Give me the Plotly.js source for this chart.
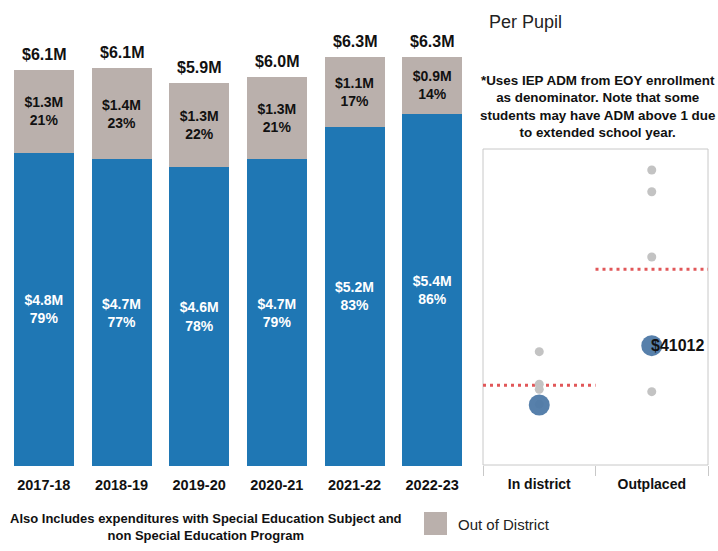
<!DOCTYPE html>
<html>
<head>
<meta charset="utf-8">
<script src="https://cdn.plot.ly/plotly-3.0.1.min.js"></script>
<style>html,body{margin:0;padding:0;background:#fff;} #chart{width:718px;height:551px;}</style>
</head>
<body>
<div id="chart"></div>
<script>
// ---- Data (left: spending in $M) ----
var years = ["2017-18", "2018-19", "2019-20", "2020-21", "2021-22", "2022-23"];
var inDistrictM = [4.82, 4.72, 4.60, 4.72, 5.22, 5.42];
var outDistrictM = [1.28, 1.40, 1.30, 1.27, 1.08, 0.88];

// ---- Data (right: per pupil) ----
var placements = ["In district", "Outplaced"];
var otherYearsPlacement = ["In district", "In district", "In district", "In district",
                           "Outplaced", "Outplaced", "Outplaced", "Outplaced"];
var otherYearsPerPupil = [38950, 27750, 26000, 20900, 101400, 93900, 71500, 25200];
var currentPerPupil = [20630, 41012];
var currentLabels = ["", "$41012"];
var averagePerPupil = [27400, 67300];

var noteLines = ["*Uses IEP ADM from EOY enrollment", "as denominator. Note that some",
                 "students may have ADM above 1 due", "to extended school year."];
var footnote = "Also Includes expenditures with Special Education Subject and<br>non Special Education Program";
var legendLabel = "Out of District";

var BLUE = "#1f77b4", GRAY = "#bab0ac";
var boldFont = "Liberation Sans, Arial, sans-serif";

var totals = inDistrictM.map(function (v, i) { return v + outDistrictM[i]; });
function money(v) { return "$" + v.toFixed(1) + "M"; }
function pct(v, t) { return Math.round(100 * v / t) + "%"; }

var traces = [
  {
    type: "bar", x: years, y: inDistrictM, name: "In District",
    marker: { color: BLUE },
    text: inDistrictM.map(function (v, i) { return "<b>" + money(v) + "<br>" + pct(v, totals[i]) + "</b>"; }),
    textposition: "inside", insidetextanchor: "middle", constraintext: "none",
    textfont: { color: "#ffffff", size: 14, family: boldFont },
    hoverinfo: "skip", xaxis: "x", yaxis: "y"
  },
  {
    type: "bar", x: years, y: outDistrictM, name: legendLabel,
    marker: { color: GRAY },
    text: outDistrictM.map(function (v, i) { return "<b>" + money(v) + "<br>" + pct(v, totals[i]) + "</b>"; }),
    textposition: "inside", insidetextanchor: "middle", constraintext: "none",
    textfont: { color: "#111111", size: 14, family: boldFont },
    hoverinfo: "skip", xaxis: "x", yaxis: "y"
  },
  {
    type: "scatter", mode: "markers", x: otherYearsPlacement, y: otherYearsPerPupil,
    marker: { color: "#c3c3c3", size: 9 }, hoverinfo: "skip", xaxis: "x2", yaxis: "y2"
  },
  {
    type: "scatter", mode: "markers", x: placements, y: currentPerPupil,
    marker: { color: "#4e79a7", size: 21, opacity: 0.95 }, hoverinfo: "skip", xaxis: "x2", yaxis: "y2"
  }
];

var annotations = [];
years.forEach(function (y, i) {
  annotations.push({
    x: y, y: totals[i], xref: "x", yref: "y", yanchor: "bottom", yshift: 5,
    text: "<b>" + money(totals[i]) + "</b>", showarrow: false,
    font: { size: 16, color: "#111", family: boldFont }
  });
});
placements.forEach(function (p, i) {
  if (currentLabels[i]) {
    annotations.push({
      x: i, y: currentPerPupil[i], xref: "x2", yref: "y2", xanchor: "left", yanchor: "middle", xshift: -3,
      text: "<b>" + currentLabels[i] + "</b>", showarrow: false,
      font: { size: 16, color: "#111", family: boldFont }
    });
  }
});
annotations.push({
  x: 487 / 718, y: 1 - 22 / 551, xref: "paper", yref: "paper", xanchor: "left", yanchor: "middle",
  text: "Per Pupil", showarrow: false, font: { size: 18, color: "#222", family: "Liberation Sans, Arial, sans-serif" }
});
annotations.push({
  x: 597 / 718, y: 1 - 106 / 551, xref: "paper", yref: "paper", xanchor: "center", yanchor: "middle",
  text: "<b>" + noteLines.join("<br>") + "</b>", showarrow: false, align: "center",
  font: { size: 13.4, color: "#111", family: boldFont }
});
annotations.push({
  x: 206 / 718, y: 1 - 527 / 551, xref: "paper", yref: "paper", xanchor: "center", yanchor: "middle",
  text: "<b>" + footnote + "</b>", showarrow: false, align: "center",
  font: { size: 13, color: "#111", family: boldFont }
});
annotations.push({
  x: 456 / 718, y: 1 - 524 / 551, xref: "paper", yref: "paper", xanchor: "left", yanchor: "middle",
  text: legendLabel, showarrow: false, font: { size: 15, color: "#222", family: "Liberation Sans, Arial, sans-serif" }
});

var shapes = [
  { type: "rect", xref: "x2 domain", yref: "y2 domain", x0: 0, x1: 1, y0: 0, y1: 1,
    line: { color: "#c8c8c8", width: 1 }, layer: "below" },
  { type: "rect", xref: "paper", yref: "paper", x0: 424 / 718, x1: 447 / 718, y0: 1 - 535 / 551, y1: 1 - 512 / 551,
    fillcolor: GRAY, line: { width: 0 } }
];
placements.forEach(function (p, i) {
  shapes.push({
    type: "line", xref: "x2", yref: "y2", x0: i - 0.5, x1: i + 0.5, y0: averagePerPupil[i], y1: averagePerPupil[i],
    line: { color: "#e15759", width: 3, dash: "3px,4px" }, layer: "below"
  });
});

var layout = {
  width: 718, height: 551,
  margin: { l: 0, r: 0, t: 0, b: 0 },
  paper_bgcolor: "#fff", plot_bgcolor: "rgba(0,0,0,0)",
  showlegend: false, barmode: "stack", bargap: 0.2275,
  font: { family: boldFont, color: "#111" },
  xaxis: {
    domain: [5 / 718, 471 / 718], type: "category", showgrid: false, zeroline: false, showline: false,
    ticks: "", tickfont: { size: 14.5, color: "#111", family: boldFont }, fixedrange: true,
    ticklabelstandoff: 8,
    tickprefix: "<b>", ticksuffix: "</b>"
  },
  yaxis: {
    domain: [85 / 551, 521 / 551], range: [0, 6.708], visible: false, fixedrange: true
  },
  xaxis2: {
    domain: [483 / 718, 708 / 718], type: "category", range: [-0.5, 1.5], anchor: "y2",
    categoryorder: "array", categoryarray: placements,
    showgrid: false, zeroline: false, showline: false,
    ticks: "outside", tickson: "boundaries", ticklen: 10, tickcolor: "#c8c8c8", tickwidth: 1,
    tickfont: { size: 14, color: "#111", family: boldFont }, ticklabelstandoff: 9,
    tickprefix: "<b>", ticksuffix: "</b>", fixedrange: true
  },
  yaxis2: {
    domain: [86 / 551, 402 / 551], range: [0, 108600], anchor: "x2",
    visible: false, fixedrange: true
  },
  annotations: annotations,
  shapes: shapes
};

Plotly.newPlot("chart", traces, layout, { displayModeBar: false, staticPlot: true });
</script>
</body>
</html>
